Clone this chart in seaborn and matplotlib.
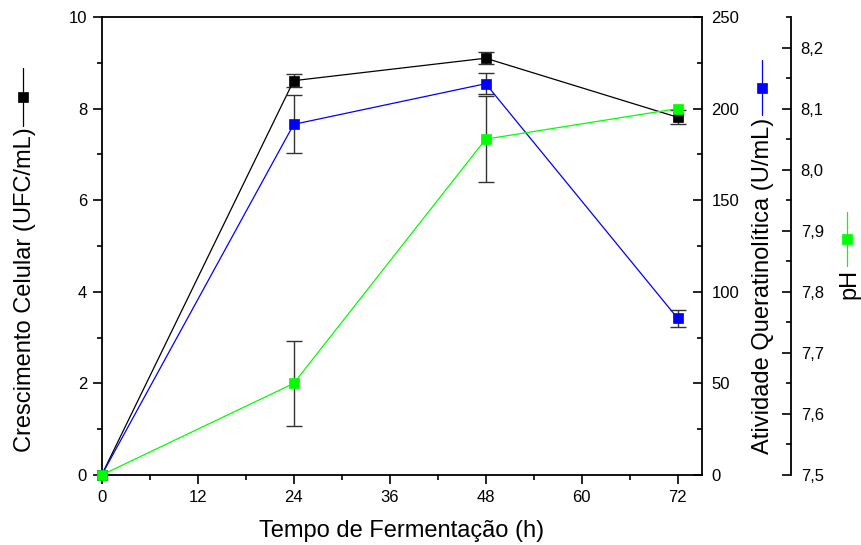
import matplotlib
matplotlib.use("Agg")
import matplotlib.pyplot as plt
import seaborn as sns
import pandas as pd
from matplotlib.lines import Line2D
from matplotlib.ticker import FixedLocator, MultipleLocator

# ---- data ----
hours = [0, 24, 48, 72]
cell_growth = [0.0, 8.61, 9.10, 7.81]
cell_growth_err = [0.0, 0.14, 0.13, 0.15]
activity = [0.0, 191.4, 213.6, 85.5]
activity_err = [0.0, 15.8, 5.7, 4.6]
ph = [7.50, 7.65, 8.05, 8.10]
ph_err = [0.0, 0.070, 0.071, 0.0]

x_ticks = [0, 12, 24, 36, 48, 60, 72]
cell_ticks = [0, 2, 4, 6, 8, 10]
activity_ticks = [0, 50, 100, 150, 200, 250]
ph_ticks = [7.5, 7.6, 7.7, 7.8, 7.9, 8.0, 8.1, 8.2]
ph_tick_labels = ["7,5", "7,6", "7,7", "7,8", "7,9", "8,0", "8,1", "8,2"]

x_label = "Tempo de Fermentação (h)"
cell_label = "Crescimento Celular (UFC/mL)"
activity_label = "Atividade Queratinolítica (U/mL)"
ph_label = "pH"

BLACK, BLUE, GREEN = "#000000", "#0000FF", "#00FF00"
ERR = "#333333"
TICK_FS = 12
LABEL_FS = 17

sns.set_style("ticks")
plt.rcParams["font.family"] = ["Liberation Sans", "DejaVu Sans"]
plt.rcParams["text.color"] = "black"
plt.rcParams["xtick.color"] = "black"
plt.rcParams["ytick.color"] = "black"
plt.rcParams["axes.labelcolor"] = "black"
plt.rcParams["axes.edgecolor"] = "black"

W, H = 861, 545
fig = plt.figure(figsize=(W / 100, H / 100), dpi=100)
L, R, T, B = 101.7, 701.7, 17.0, 475.0
ax = fig.add_axes([L / W, 1 - B / H, (R - L) / W, (B - T) / H])
ax2 = ax.twinx()
ax3 = ax.twinx()
ax3.spines["right"].set_position(("axes", (791 - L) / (R - L)))


def draw(axis, y, err, color):
    df = pd.DataFrame({"x": hours, "y": y, "e": err})
    sub = df[df["e"] > 0]
    axis.errorbar(sub["x"], sub["y"], yerr=sub["e"], fmt="none", ecolor=ERR,
                  elinewidth=1.0, capsize=6, capthick=1.0, zorder=2)
    sns.lineplot(data=df, x="x", y="y", ax=axis, color=color, marker="s",
                 markersize=7, markeredgecolor=color, markeredgewidth=0.5,
                 linewidth=0.9, zorder=3, clip_on=False, legend=False)


draw(ax, cell_growth, cell_growth_err, BLACK)
draw(ax2, activity, activity_err, BLUE)
draw(ax3, ph, ph_err, GREEN)

ax.set_xlim(0, 75)
ax.set_ylim(0, 10)
ax2.set_ylim(0, 250)
ax3.set_ylim(7.5, 8.25)

for a in (ax, ax2, ax3):
    a.set_xlabel("")
    a.set_ylabel("")
    for s in a.spines.values():
        s.set_linewidth(1.3)
        s.set_color("black")

ax.spines["right"].set_visible(False)
for s in ("left", "top", "bottom"):
    ax2.spines[s].set_visible(False)
    ax3.spines[s].set_visible(False)
ax.spines["top"].set_visible(True)

# x axis
ax.xaxis.set_major_locator(FixedLocator(x_ticks))
ax.xaxis.set_minor_locator(MultipleLocator(6))
ax.set_xticklabels([str(v) for v in x_ticks])
ax.tick_params(axis="x", which="major", direction="out", length=6.5, width=1.2,
               labelsize=TICK_FS, top=False, pad=4, colors="black")
ax.tick_params(axis="x", which="minor", direction="out", length=3.5, width=1.2, top=False,
               colors="black")

# left axis
ax.yaxis.set_major_locator(FixedLocator(cell_ticks))
ax.yaxis.set_minor_locator(MultipleLocator(1))
ax.set_yticklabels([str(v) for v in cell_ticks])
ax.tick_params(axis="y", which="major", direction="out", length=6.5, width=1.2,
               labelsize=TICK_FS, right=False, pad=4, colors="black")
ax.tick_params(axis="y", which="minor", direction="out", length=3.5, width=1.2, right=False,
               colors="black")

# activity axis
ax2.yaxis.set_major_locator(FixedLocator(activity_ticks))
ax2.yaxis.set_minor_locator(MultipleLocator(25))
ax2.set_yticklabels([str(v) for v in activity_ticks])
ax2.tick_params(axis="y", which="major", direction="in", length=6.5, width=1.2,
                labelsize=TICK_FS, pad=7, colors="black")
ax2.tick_params(axis="y", which="minor", direction="in", length=3.5, width=1.2, colors="black")

# pH axis
ax3.yaxis.set_major_locator(FixedLocator(ph_ticks))
ax3.yaxis.set_minor_locator(MultipleLocator(0.05))
ax3.set_yticklabels(ph_tick_labels)
ax3.tick_params(axis="y", which="major", direction="in", length=6.5, width=1.2,
                labelsize=TICK_FS, pad=7, colors="black")
ax3.tick_params(axis="y", which="minor", direction="in", length=3.5, width=1.2, colors="black")


def fx(px):
    return px / W


def fy(py):
    return 1 - py / H


fig.text(fx(401.7), fy(536.5), x_label, fontsize=LABEL_FS, ha="center", va="baseline",
         color="black")
fig.text(fx(25), fy(290), cell_label, fontsize=LABEL_FS, rotation=90, ha="center",
         va="center", color="black")
fig.text(fx(763), fy(286), activity_label, fontsize=LABEL_FS, rotation=90, ha="center",
         va="center", color="black")
fig.text(fx(849), fy(284), ph_label, fontsize=LABEL_FS, rotation=90, ha="center",
         va="center", color="black")


def symbol(xp, y_top, y_bot, color):
    fig.add_artist(Line2D([fx(xp), fx(xp)], [fy(y_top), fy(y_bot)], color=color,
                          linewidth=0.9, transform=fig.transFigure))
    fig.add_artist(Line2D([fx(xp)], [fy((y_top + y_bot) / 2)], color=color, marker="s",
                          markersize=7, markeredgewidth=0.5, markeredgecolor=color,
                          transform=fig.transFigure))


symbol(23, 68, 126, BLACK)
symbol(762, 60, 115, BLUE)
symbol(847, 212, 266, GREEN)

fig.savefig("out.png", dpi=100)
